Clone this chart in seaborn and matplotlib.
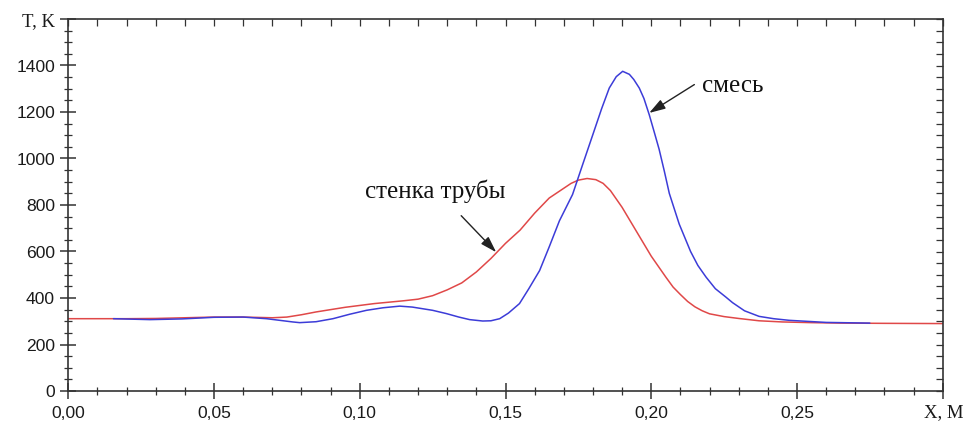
import matplotlib
matplotlib.use("Agg")
import matplotlib.pyplot as plt
from matplotlib.ticker import FixedLocator, MultipleLocator, FuncFormatter
import seaborn as sns
import pandas as pd

# wall temperature (red)
wall_x = [0.0, 0.02, 0.03, 0.04, 0.05, 0.06, 0.07, 0.075, 0.08, 0.085, 0.09, 0.095,
          0.10, 0.105, 0.11, 0.115, 0.12, 0.125, 0.13, 0.135, 0.14, 0.145, 0.15,
          0.155, 0.16, 0.165, 0.17, 0.1725, 0.175, 0.178, 0.181, 0.1835, 0.186,
          0.19, 0.195, 0.20, 0.205, 0.2075, 0.21, 0.2125, 0.215, 0.2175, 0.22,
          0.225, 0.23, 0.237, 0.245, 0.255, 0.265, 0.28, 0.30]
wall_t = [311, 311, 312, 315, 318, 318, 315, 318, 328, 340, 350, 360,
          368, 376, 382, 388, 395, 410, 435, 465, 512, 570, 635,
          692, 765, 830, 872, 893, 907, 914, 909, 893, 862,
          790, 685, 580, 490, 447, 415, 385, 362, 345, 332,
          320, 312, 302, 297, 294, 292, 291, 290]

# mixture temperature (blue)
mix_x = [0.0155, 0.028, 0.039, 0.05, 0.06, 0.068, 0.077, 0.0794, 0.085, 0.0908,
         0.0965, 0.1023, 0.108, 0.1137, 0.118, 0.125, 0.1297, 0.134, 0.1377, 0.1422,
         0.145, 0.148, 0.151, 0.1548, 0.158, 0.1617, 0.165, 0.1685, 0.173, 0.1765,
         0.18, 0.183, 0.1856, 0.188, 0.1902, 0.1925, 0.194, 0.1959, 0.1975, 0.1993,
         0.201, 0.2027, 0.2045, 0.2062, 0.208, 0.2096, 0.2135, 0.216, 0.2188, 0.222,
         0.2256, 0.2279, 0.232, 0.237, 0.242, 0.2473, 0.26, 0.275]
mix_t = [311, 307, 310, 317, 318, 311, 297, 294, 298, 311,
         330, 347, 358, 365, 361, 347, 333, 318, 307, 301,
         302, 311, 335, 376, 440, 518, 620, 732, 845, 975,
         1104, 1215, 1303, 1352, 1375, 1362, 1340, 1303, 1258, 1189,
         1115, 1040, 945, 850, 780, 718, 600, 540, 490, 440,
         404, 380, 345, 321, 311, 304, 295, 292]

x_ticks = [0.0, 0.05, 0.10, 0.15, 0.20, 0.25, 0.30]
y_ticks = [0, 200, 400, 600, 800, 1000, 1200, 1400, 1600]
label_wall = "стенка трубы"
label_mix = "смесь"
x_label = "X, M"
y_label = "T, K"

sns.set_theme(style="white")
plt.rcParams["font.family"] = ["Liberation Sans", "DejaVu Sans"]

fig = plt.figure(figsize=(9.65, 4.23), dpi=100)
ax = fig.add_axes([68.3 / 965, 1 - 391 / 423, (942.7 - 68.3) / 965, (391 - 19) / 423])

df_w = pd.DataFrame({"x": wall_x, "t": wall_t})
df_m = pd.DataFrame({"x": mix_x, "t": mix_t})
sns.lineplot(data=df_w, x="x", y="t", ax=ax, color="#e04848", lw=1.1, sort=False)
sns.lineplot(data=df_m, x="x", y="t", ax=ax, color="#3c3cd8", lw=1.1, sort=False)

ax.set_xlim(0, 0.30)
ax.set_ylim(0, 1600)
ax.set_xlabel("")
ax.set_ylabel("")

ax.xaxis.set_major_locator(FixedLocator(x_ticks))
ax.yaxis.set_major_locator(FixedLocator(y_ticks))
ax.xaxis.set_minor_locator(MultipleLocator(0.01))
ax.yaxis.set_minor_locator(MultipleLocator(50))
ax.xaxis.set_major_formatter(FuncFormatter(
    lambda v, p: "" if v > 0.28 else f"{v:.2f}".replace(".", ",")))
ax.yaxis.set_major_formatter(FuncFormatter(
    lambda v, p: "" if v > 1500 else f"{v:.0f}"))

for s in ax.spines.values():
    s.set_color("#333333")
    s.set_linewidth(1.2)
    s.set_visible(True)

ax.tick_params(which="major", direction="inout", length=11, width=1.1, color="#333333",
               labelsize=12.6, labelcolor="#1a1a1a", bottom=True, left=True,
               top=False, right=False)
ax.tick_params(axis="y", which="major", pad=4)
ax.tick_params(axis="x", which="major", pad=5)
ax.tick_params(which="minor", direction="inout", length=5.5, width=0.9, color="#333333",
               bottom=True, left=True, top=False, right=False)

secx = ax.secondary_xaxis("top")
secx.xaxis.set_major_locator(MultipleLocator(0.01))
secx.tick_params(direction="in", length=5, width=0.9, color="#333333", labeltop=False)
secx.spines["top"].set_visible(False)
secy = ax.secondary_yaxis("right")
secy.yaxis.set_major_locator(MultipleLocator(50))
secy.tick_params(direction="in", length=5, width=0.9, color="#333333", labelright=False)
secy.spines["right"].set_visible(False)

serif = ["Liberation Serif", "DejaVu Serif"]
fig.text(39 / 965, 1 - 22 / 423, y_label, family=serif, fontsize=13.5,
         ha="center", va="center", color="#1a1a1a")
fig.text(944 / 965, 1 - 413 / 423, x_label, family=serif, fontsize=13.5,
         ha="center", va="center", color="#1a1a1a")

arrow = dict(arrowstyle="-|>,head_length=0.7,head_width=0.22", color="#222222",
             lw=1.0, mutation_scale=14, shrinkA=0, shrinkB=0)

ax.text(0.126, 861, label_wall, fontsize=18, family=serif, color="#111111",
        ha="center", va="center")
ax.annotate("", xy=(0.1468, 597), xytext=(0.1348, 754), textcoords="data",
            arrowprops=arrow)

ax.text(0.2175, 1311, label_mix, fontsize=18, family=serif, color="#111111",
        ha="left", va="center")
ax.annotate("", xy=(0.1993, 1196), xytext=(0.2148, 1318), textcoords="data",
            arrowprops=arrow)

fig.savefig("out.png", dpi=100, facecolor="white")
